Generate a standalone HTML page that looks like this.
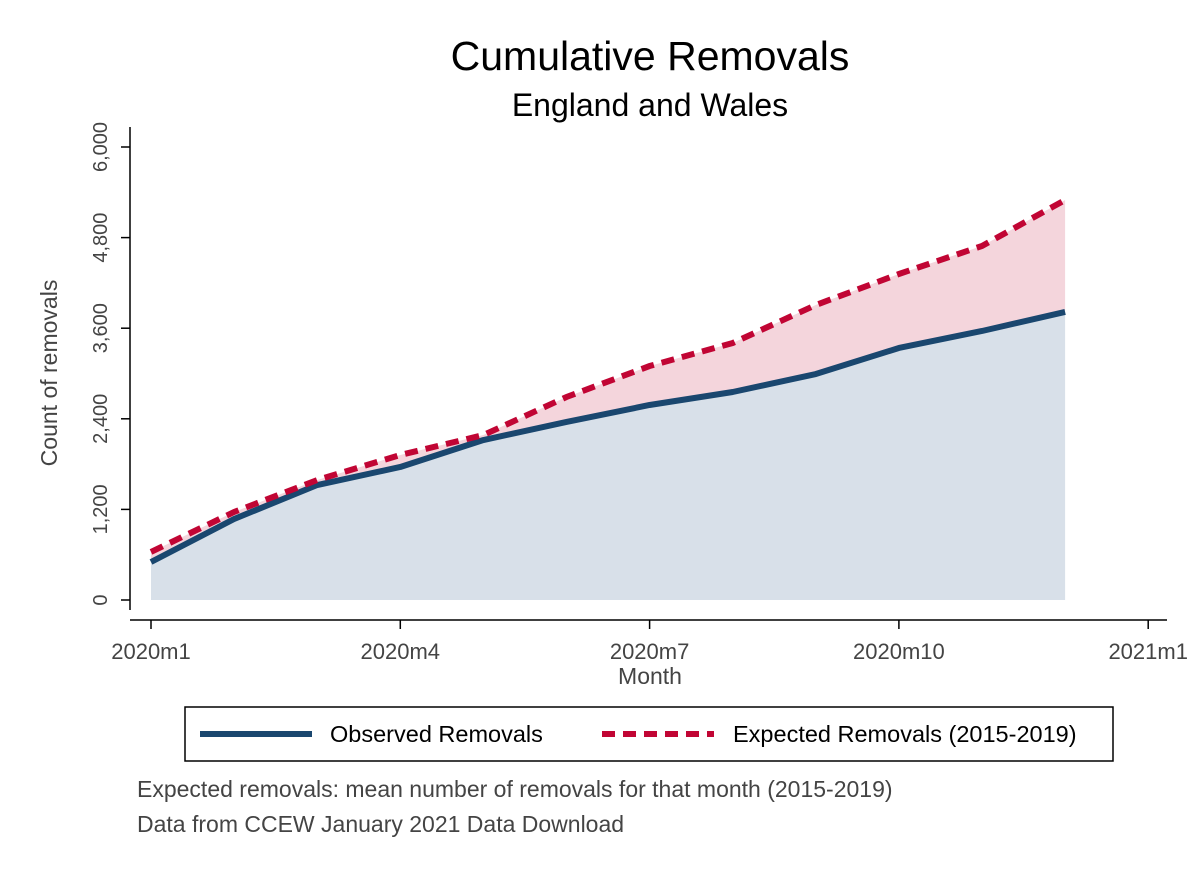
<!DOCTYPE html>
<html><head><meta charset="utf-8"><style>
body{margin:0;background:#fff;}
svg text{font-family:"Liberation Sans",Arial,sans-serif;}
</style></head><body>
<svg width="1200" height="873" viewBox="0 0 1200 873">
<rect width="1200" height="873" fill="#fff"/>
<text x="650" y="70" font-size="41" text-anchor="middle" fill="#000">Cumulative Removals</text>
<text x="650" y="116" font-size="32" text-anchor="middle" fill="#000">England and Wales</text>
<g id="plot"></g>
<text x="650" y="684" font-size="23" text-anchor="middle" fill="#444">Month</text>
<text transform="translate(57,373) rotate(-90)" font-size="23" text-anchor="middle" fill="#444">Count of removals</text>
<g>
<rect x="185" y="707" width="928" height="54" fill="#fff" stroke="#000" stroke-width="1.5"/>
<line x1="200" y1="734" x2="312" y2="734" stroke="#1a476f" stroke-width="6"/>
<text x="330" y="742" font-size="23.5" fill="#000">Observed Removals</text>
<line x1="602" y1="734" x2="714" y2="734" stroke="#c10534" stroke-width="6" stroke-dasharray="13,8"/>
<text x="733" y="742" font-size="23.5" fill="#000">Expected Removals (2015-2019)</text>
</g>
<text x="137" y="797" font-size="23" fill="#444">Expected removals: mean number of removals for that month (2015-2019)</text>
<text x="137" y="832" font-size="23" fill="#444">Data from CCEW January 2021 Data Download</text>
</svg>
<script>
const months=[1,2,3,4,5,6,7,8,9,10,11,12];
const observed=[503,1073,1523,1762,2119,2358,2583,2755,2993,3338,3563,3815];
const expected=[636,1166,1589,1921,2185,2689,3099,3404,3907,4318,4689,5298];
const yTicks=[0,1200,2400,3600,4800,6000];
const xTickMonths=[1,4,7,10,13];
const xTickLabels=["2020m1","2020m4","2020m7","2020m10","2021m1"];
const NS="http://www.w3.org/2000/svg";
const g=document.getElementById('plot');
function X(m){return 151+(m-1)*83.1;}
function Y(v){return 600-v*453/6000;}
function mk(t,a){const e=document.createElementNS(NS,t);for(const k in a)e.setAttribute(k,a[k]);g.appendChild(e);return e;}
function pts(arr){return arr.map((v,i)=>X(months[i])+','+Y(v)).join(' ');}
const base=' '+X(months[months.length-1])+','+Y(0)+' '+X(months[0])+','+Y(0);
let a=mk('polygon',{points:pts(expected)+' '+observed.map((v,i)=>[X(months[i]),Y(v)]).reverse().map(p=>p.join(',')).join(' '),fill:'#f4d5dc'});


let b=mk('polygon',{points:pts(observed)+base,fill:'#d8e0e9'});


let l1=mk('polyline',{points:pts(observed),fill:'none',stroke:'#1a476f','stroke-width':6,'stroke-linejoin':'round'});


let l2=mk('polyline',{points:pts(expected),fill:'none',stroke:'#c10534','stroke-width':6,'stroke-dasharray':'13,8'});


let ya=mk('line',{x1:130,y1:127,x2:130,y2:610,stroke:'#000','stroke-width':1.5});


yTicks.forEach(v=>{
 const t=mk('line',{x1:121,x2:130,y1:Y(v),y2:Y(v),stroke:'#000','stroke-width':1.5});
 
 
 const tx=mk('text',{transform:`translate(107,${Y(v)}) rotate(-90)`,'font-size':20,'text-anchor':'middle',fill:'#444'});
 tx.textContent=v.toLocaleString('en-US');
 
 
});
let xa=mk('line',{x1:130,y1:620,x2:1167,y2:620,stroke:'#000','stroke-width':1.5});


xTickMonths.forEach((m,i)=>{
 const t=mk('line',{x1:X(m),x2:X(m),y1:620,y2:629,stroke:'#000','stroke-width':1.5});
 
 
 const tx=mk('text',{x:X(m),y:659,'font-size':22,'text-anchor':'middle',fill:'#444'});
 tx.textContent=xTickLabels[i];
 
 
});
</script>
</body></html>
